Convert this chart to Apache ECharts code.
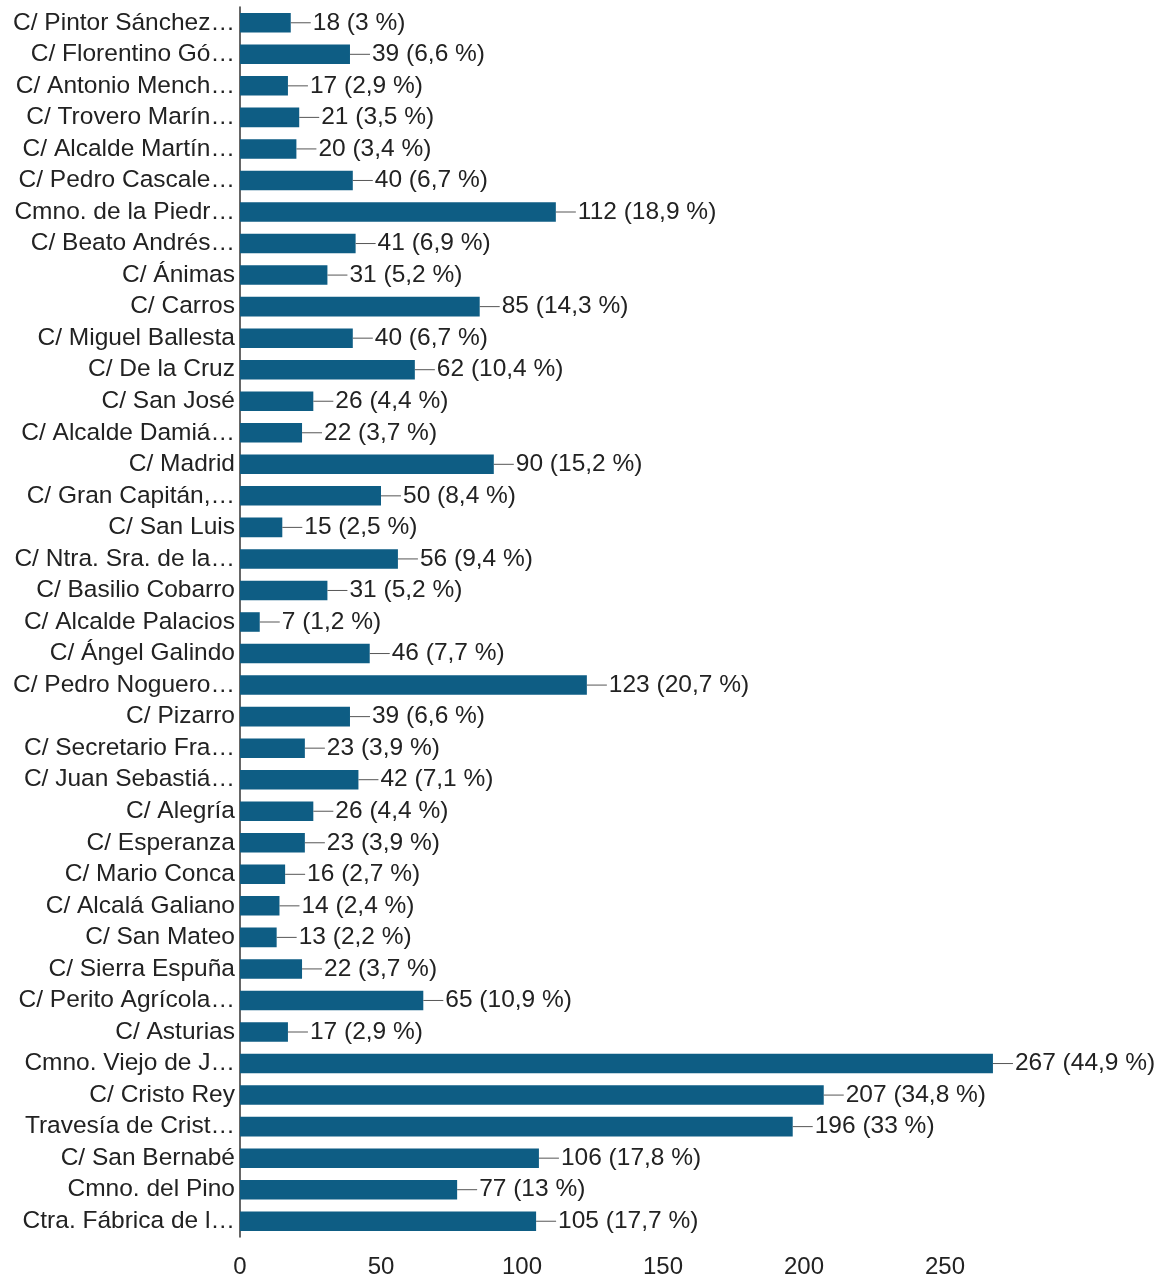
<!DOCTYPE html>
<html><head><meta charset="utf-8">
<script src="https://cdn.jsdelivr.net/npm/echarts@6/dist/echarts.min.js"></script>
<style>html,body{margin:0;padding:0;background:#fff;overflow:hidden}#c{width:1172px;height:1279px}</style>
</head><body><div id="c"></div>
<script>
const categories = ["C/ Pintor Sánchez…","C/ Florentino Gó…","C/ Antonio Mench…","C/ Trovero Marín…","C/ Alcalde Martín…","C/ Pedro Cascale…","Cmno. de la Piedr…","C/ Beato Andrés…","C/ Ánimas","C/ Carros","C/ Miguel Ballesta","C/ De la Cruz","C/ San José","C/ Alcalde Damiá…","C/ Madrid","C/ Gran Capitán,…","C/ San Luis","C/ Ntra. Sra. de la…","C/ Basilio Cobarro","C/ Alcalde Palacios","C/ Ángel Galindo","C/ Pedro Noguero…","C/ Pizarro","C/ Secretario Fra…","C/ Juan Sebastiá…","C/ Alegría","C/ Esperanza","C/ Mario Conca","C/ Alcalá Galiano","C/ San Mateo","C/ Sierra Espuña","C/ Perito Agrícola…","C/ Asturias","Cmno. Viejo de J…","C/ Cristo Rey","Travesía de Crist…","C/ San Bernabé","Cmno. del Pino","Ctra. Fábrica de l…"];
const values = [18,39,17,21,20,40,112,41,31,85,40,62,26,22,90,50,15,56,31,7,46,123,39,23,42,26,23,16,14,13,22,65,17,267,207,196,106,77,105];
const percents = ["3","6,6","2,9","3,5","3,4","6,7","18,9","6,9","5,2","14,3","6,7","10,4","4,4","3,7","15,2","8,4","2,5","9,4","5,2","1,2","7,7","20,7","6,6","3,9","7,1","4,4","3,9","2,7","2,4","2,2","3,7","10,9","2,9","44,9","34,8","33","17,8","13","17,7"];
const xTicks = [0,50,100,150,200,250];

const chart = echarts.init(document.getElementById('c'), null, {renderer:'canvas'});
const font = '"Liberation Sans", Arial, sans-serif';
chart.setOption({
  animation:false,
  grid:{left:240,right:86,top:7,bottom:39,containLabel:false},
  xAxis:{type:'value',min:0,max:300,interval:50,
    axisLine:{show:false},axisTick:{show:false},splitLine:{show:false},
    axisLabel:{fontFamily:font,fontSize:24,color:'#222',margin:18,
      formatter:v=>xTicks.indexOf(v)>=0?String(v):''}},
  yAxis:{type:'category',data:categories,inverse:true,
    axisLine:{show:true,lineStyle:{color:'#333',width:1.5}},axisTick:{show:false},
    axisLabel:{interval:0,fontFamily:font,fontSize:24.5,color:'#222',margin:5}},
  series:[{type:'bar',data:values,barCategoryGap:'38%',
    itemStyle:{color:'#0e5d84'},
    label:{show:true,position:'right',distance:0,
      formatter:p=>'{l|}{t|'+p.value+' ('+percents[p.dataIndex]+' %)}',
      rich:{l:{width:20,height:1,backgroundColor:'#555'},
            t:{fontFamily:font,fontSize:24.5,color:'#222',padding:[0,0,0,2]}}}
  }]
});
</script></body></html>
